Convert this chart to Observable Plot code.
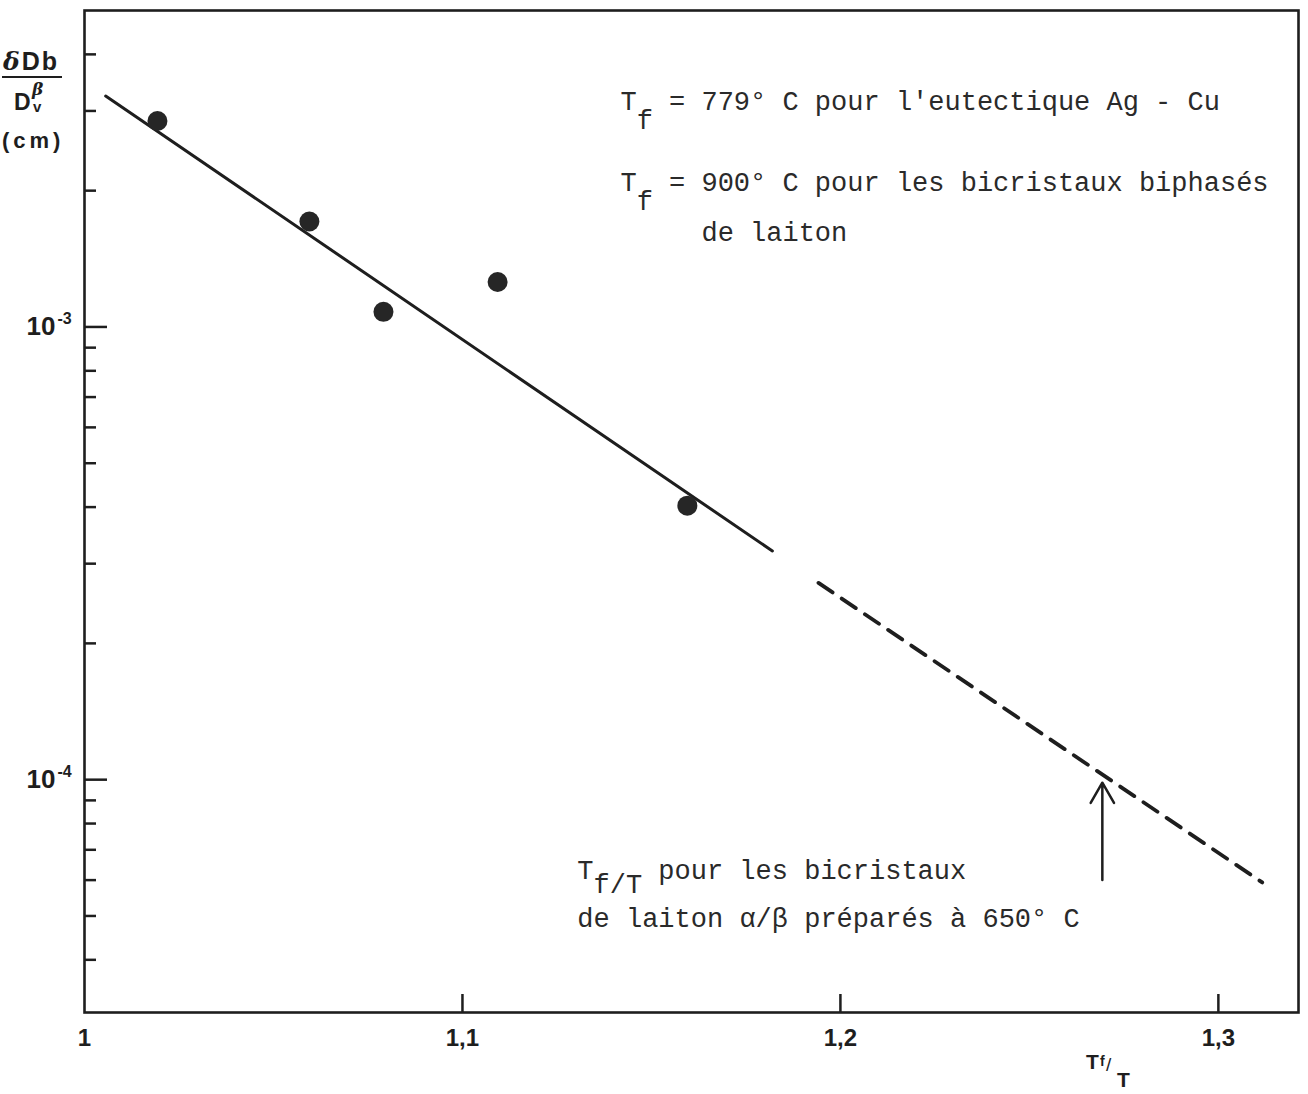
<!DOCTYPE html>
<html><head><meta charset="utf-8">
<script src="https://cdn.jsdelivr.net/npm/d3@7"></script>
<script src="https://cdn.jsdelivr.net/npm/@observablehq/plot@0.6"></script>
<style>
body{margin:0;background:#fff}
#wrap{position:relative;width:1308px;height:1094px;overflow:hidden}
.lab{position:absolute;font-family:"Liberation Sans",sans-serif;font-weight:bold;color:#1e1e1e;white-space:nowrap;line-height:1}
</style></head><body>
<div id="wrap">
  <div class="lab" style="left:3px;top:49px;font-size:25px;letter-spacing:2px"><span style="font-family:'DejaVu Serif';font-style:italic">δ</span>Db</div>
  <div style="position:absolute;left:2px;top:76px;width:60px;height:2px;background:#1e1e1e"></div>
  <div class="lab" style="left:14px;top:91px;font-size:23px">D</div>
  <div class="lab" style="left:32px;top:81px;font-size:17px;font-family:'DejaVu Serif';font-style:italic">β</div>
  <div class="lab" style="left:33px;top:99px;font-size:15px">v</div>
  <div class="lab" style="left:2px;top:130px;font-size:22px;letter-spacing:4px">(cm)</div>
  <div class="lab" style="left:1086px;top:1051px;font-size:21px">T</div>
  <div class="lab" style="left:1100px;top:1054px;font-size:14px">f</div>
  <div class="lab" style="left:1106px;top:1055px;font-size:19px;font-weight:normal">/</div>
  <div class="lab" style="left:1117px;top:1069px;font-size:21px">T</div>
</div>
<script>
// data points
const ptX = [1.0193, 1.0595, 1.0791, 1.1093, 1.1595];
const ptY = [2.85e-3, 1.71e-3, 1.08e-3, 1.257e-3, 4.03e-4];
// fitted line (solid) and its extrapolation (dashed)
const fitX = [1.0056, 1.182];
const fitY = [3.236e-3, 3.20e-4];
const extX = [1.1942, 1.3116];
const extY = [2.72e-4, 5.93e-5];
// axis ticks
const xTicks = [1, 1.1, 1.2, 1.3];
const xTickLabels = ["1", "1,1", "1,2", "1,3"];
const yMajor = [1e-4, 1e-3];
const yExp = ["-4", "-3"];
const yMinor = [4e-5,5e-5,6e-5,7e-5,8e-5,9e-5,2e-4,3e-4,4e-4,5e-4,6e-4,7e-4,8e-4,9e-4,2e-3,3e-3,4e-3];
// arrow marking Tf/T for α/β brass bicrystals prepared at 650 °C
const arrowX = [1.2693];
const arrowY1 = [6.0e-5];
const arrowY2 = [9.85e-5];
// typewriter annotations, grouped by starting column
const col0X = [1.1418, 1.1418, 1.1304, 1.1304];
const col0Y = [3.155e-3, 2.09e-3, 6.30e-5, 4.93e-5];
const col0Text = ["T", "T", "T", "de laiton α/β préparés à 650° C"];
const subTopX = [1.1418, 1.1418];
const subTopY = [3.155e-3, 2.09e-3];
const subTopText = ["f", "f"];
const subBotX = [1.1304];
const subBotY = [6.30e-5];
const subBotText = ["f/T"];
const col3X = [1.1418, 1.1418];
const col3Y = [3.155e-3, 2.09e-3];
const col3Text = ["= 779° C pour l'eutectique Ag - Cu", "= 900° C pour les bicristaux biphasés"];
const col5X = [1.1418, 1.1304];
const col5Y = [1.62e-3, 6.30e-5];
const col5Text = ["de laiton", "pour les bicristaux"];

const rows = (X, Y, T) => X.map((x, i) => ({x, y: Y[i], t: T[i]}));
const pts = ptX.map((x, i) => ({x, y: ptY[i]}));
const fit = fitX.map((x, i) => ({x, y: fitY[i]}));
const ext = extX.map((x, i) => ({x, y: extY[i]}));
const arrows = arrowX.map((x, i) => ({x, y1: arrowY1[i], y2: arrowY2[i]}));
const ink = "#1e1e1e";
const mono = "Liberation Mono, monospace";
const fs = 27, pitch = 0.6 * fs;
const noteStyle = {x: "x", y: "y", text: "t", textAnchor: "start", fontFamily: mono, fontSize: fs, fill: "#2a2a2a"};

const chart = Plot.plot({
  width: 1308, height: 1094,
  marginLeft: 84, marginRight: 10, marginTop: 10, marginBottom: 82,
  style: {background: "#fff", color: ink},
  x: {domain: [1, 1.3212]},
  y: {type: "log", domain: [3.06e-5, 5e-3]},
  marks: [
    Plot.axisY({ticks: yMinor, tickSize: -12, strokeWidth: 2.5, tickFormat: () => "", label: null}),
    Plot.axisY({ticks: yMajor, tickSize: -23, strokeWidth: 2.5, tickFormat: () => "", label: null}),
    Plot.axisY({ticks: yMajor, tickSize: 0, tickPadding: 29, tickFormat: () => "10", label: null,
      fontSize: 26, fontWeight: "bold", fontFamily: "Liberation Sans"}),
    Plot.text(yMajor, {y: d => d, text: (d, i) => yExp[i], frameAnchor: "left", dx: -27, dy: -8,
      textAnchor: "start", fontSize: 16, fontWeight: "bold", fontFamily: "Liberation Sans", fill: ink}),
    Plot.axisX({ticks: xTicks.slice(1), tickSize: -18, strokeWidth: 2.5, tickFormat: () => "", label: null}),
    Plot.axisX({ticks: xTicks, tickSize: 0, tickPadding: 16, tickFormat: d => xTickLabels[xTicks.indexOf(d)], label: null,
      fontSize: 24, fontWeight: "bold", fontFamily: "Liberation Sans"}),
    Plot.frame({stroke: ink, strokeWidth: 2.6}),
    Plot.line(fit, {x: "x", y: "y", stroke: ink, strokeWidth: 3}),
    Plot.line(ext, {x: "x", y: "y", stroke: ink, strokeWidth: 3.8, strokeDasharray: "17,11"}),
    Plot.dot(pts, {x: "x", y: "y", r: 10, fill: "#262626", stroke: "none"}),
    Plot.arrow(arrows, {x1: "x", x2: "x", y1: "y1", y2: "y2", stroke: ink, strokeWidth: 2.5, headLength: 14, bend: 0}),
    Plot.text(rows(col0X, col0Y, col0Text), {...noteStyle}),
    Plot.text(rows(subTopX, subTopY, subTopText), {...noteStyle, dx: pitch, dy: 19}),
    Plot.text(rows(subBotX, subBotY, subBotText), {...noteStyle, dx: pitch, dy: 14}),
    Plot.text(rows(col3X, col3Y, col3Text), {...noteStyle, dx: 3 * pitch}),
    Plot.text(rows(col5X, col5Y, col5Text), {...noteStyle, dx: 5 * pitch})
  ]
});
document.getElementById("wrap").prepend(chart);
</script>
</body></html>
